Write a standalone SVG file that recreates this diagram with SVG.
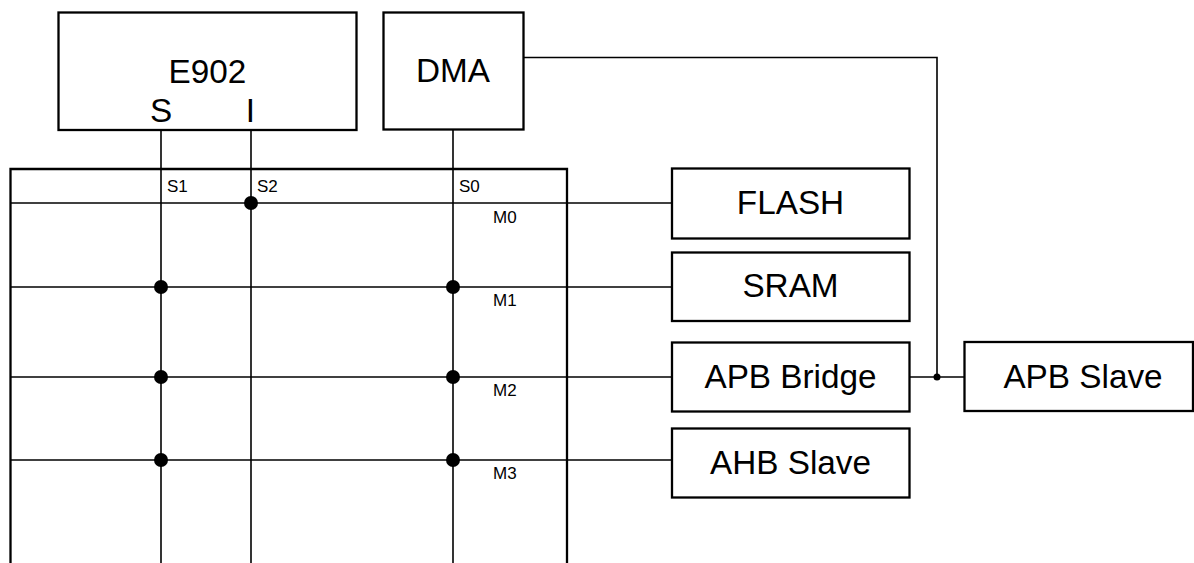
<svg xmlns="http://www.w3.org/2000/svg" width="1194" height="563" viewBox="0 0 1194 563">
<style>
.box{fill:#fff;stroke:#000;stroke-width:2.3}
.frame{fill:none;stroke:#000;stroke-width:2.3}
.ln{fill:none;stroke:#000;stroke-width:1.6}
.big{font-family:"Liberation Sans",Arial,sans-serif;font-size:33.3px;fill:#000;text-anchor:middle}
.sm{font-family:"Liberation Sans",Arial,sans-serif;font-size:17px;fill:#000}
.dot{fill:#000}
</style>
<rect width="1194" height="563" fill="#fff"/>
<g id="matrix">
<path class="frame" d="M10.5,563 V169 H567 V563"/>
<text class="sm" x="167" y="191.5">S1</text>
<text class="sm" x="257" y="191.5">S2</text>
<text class="sm" x="459" y="191.5">S0</text>
<text class="sm" x="493" y="222.5">M0</text>
<text class="sm" x="493" y="305.5">M1</text>
<text class="sm" x="493" y="395.5">M2</text>
<text class="sm" x="493" y="479">M3</text>
</g>
<g id="connectors">
<line class="ln" x1="161" y1="130" x2="161" y2="563"/>
<line class="ln" x1="251" y1="130" x2="251" y2="563"/>
<line class="ln" x1="453" y1="130" x2="453" y2="563"/>
<line class="ln" x1="10.5" y1="203" x2="672" y2="203"/>
<line class="ln" x1="10.5" y1="287" x2="672" y2="287"/>
<line class="ln" x1="10.5" y1="377" x2="672" y2="377"/>
<line class="ln" x1="10.5" y1="460" x2="672" y2="460"/>
<polyline class="ln" points="523,57.5 937,57.5 937,377"/>
<line class="ln" x1="909" y1="377" x2="964" y2="377"/>
<circle class="dot" cx="251" cy="203" r="7"/>
<circle class="dot" cx="161" cy="287" r="7"/>
<circle class="dot" cx="453" cy="287" r="7"/>
<circle class="dot" cx="161" cy="377" r="7"/>
<circle class="dot" cx="453" cy="377" r="7"/>
<circle class="dot" cx="161" cy="460" r="7"/>
<circle class="dot" cx="453" cy="460" r="7"/>
<circle class="dot" cx="937" cy="377" r="3.5"/>
</g>
<g id="e902">
<rect class="box" x="58.5" y="12.5" width="298" height="117.5"/>
<text class="big" x="207.5" y="82.5">E902</text>
<text class="big" x="161" y="121.5">S</text>
<text class="big" x="250.5" y="121.5">I</text>
</g>
<g id="dma">
<rect class="box" x="383.5" y="12.5" width="140" height="117"/>
<text class="big" x="453" y="81.5">DMA</text>
</g>
<g id="flash">
<rect class="box" x="672" y="168.5" width="237.5" height="70"/>
<text class="big" x="790.5" y="213.5">FLASH</text>
</g>
<g id="sram">
<rect class="box" x="672" y="252.5" width="237.5" height="68.5"/>
<text class="big" x="790.5" y="297">SRAM</text>
</g>
<g id="apbbridge">
<rect class="box" x="672" y="342.5" width="237.5" height="69"/>
<text class="big" x="790.5" y="388">APB Bridge</text>
</g>
<g id="ahbslave">
<rect class="box" x="672" y="428.5" width="237.5" height="69"/>
<text class="big" x="790.5" y="474">AHB Slave</text>
</g>
<g id="apbslave">
<rect class="box" x="964.5" y="342" width="228.5" height="69"/>
<text class="big" x="1083" y="387.5">APB Slave</text>
</g>
</svg>
